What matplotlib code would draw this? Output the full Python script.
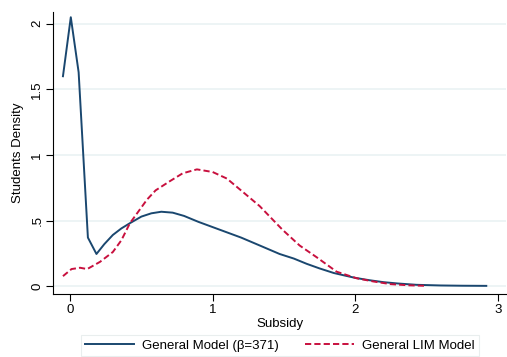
import matplotlib.pyplot as plt

plt.rcParams["font.family"] = ["Liberation Sans", "DejaVu Sans"]

# General Model (blue, solid)
gen_x = [-0.05, 0.005, 0.06, 0.125, 0.185, 0.24, 0.30, 0.36, 0.42, 0.50, 0.57, 0.64, 0.72,
         0.80, 0.90, 1.0, 1.10, 1.20, 1.33, 1.47, 1.57, 1.66, 1.75, 1.85, 1.93, 2.0, 2.1,
         2.2, 2.3, 2.43, 2.6, 2.75, 2.92]
gen_y = [1.60, 2.05, 1.63, 0.37, 0.245, 0.32, 0.39, 0.44, 0.48, 0.53, 0.555, 0.567, 0.56,
         0.535, 0.49, 0.45, 0.41, 0.37, 0.31, 0.245, 0.21, 0.17, 0.135, 0.10, 0.08, 0.063,
         0.045, 0.03, 0.02, 0.01, 0.005, 0.003, 0.002]

# General LIM Model (red, dashed)
lim_x = [-0.05, 0.01, 0.07, 0.12, 0.21, 0.30, 0.36, 0.42, 0.48, 0.54, 0.60, 0.70, 0.79,
         0.89, 1.0, 1.1, 1.21, 1.33, 1.49, 1.61, 1.73, 1.87, 2.01, 2.13, 2.25, 2.38, 2.5]
lim_y = [0.076, 0.13, 0.14, 0.13, 0.185, 0.26, 0.35, 0.48, 0.57, 0.66, 0.73, 0.80, 0.86,
         0.89, 0.87, 0.82, 0.72, 0.61, 0.43, 0.31, 0.22, 0.11, 0.06, 0.035, 0.015, 0.006,
         0.002]

fig = plt.figure(figsize=(5.07, 3.57), dpi=100)
ax = fig.add_axes([0.1045, 0.1765, 0.894, 0.79])

ax.plot(gen_x, gen_y, color="#1a476f", lw=1.4, label="General Model (\u03b2=371)")
ax.plot(lim_x, lim_y, color="#c8103e", lw=1.4, ls=(0, (3.2, 1.6)), label="General LIM Model")

ax.set_xlim(-0.12, 3.06)
ax.set_ylim(-0.06, 2.09)
ax.set_xticks([0, 1, 2, 3])
ax.set_yticks([0, 0.5, 1, 1.5, 2])
ax.set_yticklabels(["0", ".5", "1", "1.5", "2"], rotation=90, va="center")
ax.tick_params(labelsize=9.5, length=5, width=0.8, color="black", pad=2)
ax.grid(axis="y", color="#eaf2f3", lw=1.2)
ax.set_axisbelow(True)
for s in ["top", "right"]:
    ax.spines[s].set_visible(False)

ax.set_xlabel("Subsidy", fontsize=9.5, labelpad=2)
ax.set_ylabel("Students Density", fontsize=9.5, labelpad=5)

leg = fig.legend(loc="upper center", bbox_to_anchor=(0.552, 0.062), ncol=2, fontsize=9.5,
                 frameon=True, fancybox=False, handlelength=3.7, handletextpad=0.6,
                 columnspacing=2.0, borderpad=0.35, borderaxespad=0)
leg.get_frame().set_edgecolor("#e4eaea")
leg.get_frame().set_linewidth(0.8)

fig.savefig("out.png", dpi=100)
